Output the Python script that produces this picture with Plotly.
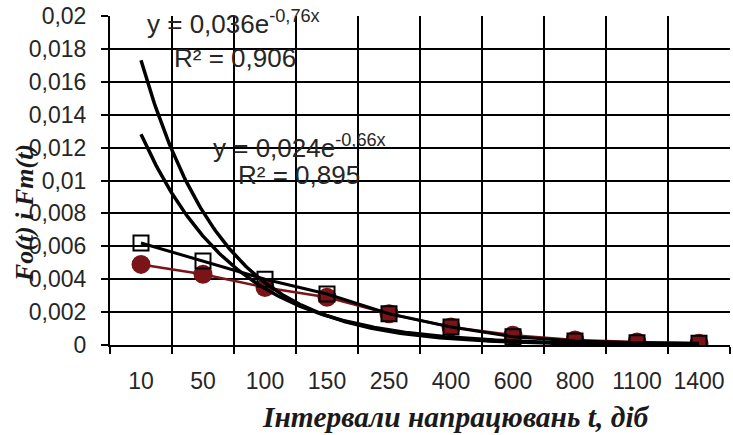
import numpy as np
import plotly.graph_objects as go

categories = ["10", "50", "100", "150", "250", "400", "600", "800", "1100", "1400"]
fo_values = [0.0062, 0.0051, 0.0040, 0.0031, 0.0019, 0.0011, 0.0005, 0.00025, 0.00014, 0.0001]
fm_values = [0.0049, 0.0043, 0.0035, 0.0029, 0.0019, 0.0011, 0.0006, 0.0003, 0.00018, 0.0001]
trend1 = (0.037, -0.76)    # shown as y = 0,036e^-0,76x, R² = 0,906
trend2 = (0.0248, -0.66)   # shown as y = 0,024e^-0,66x, R² = 0,895
y_ticks = [0, 0.002, 0.004, 0.006, 0.008, 0.01, 0.012, 0.014, 0.016, 0.018, 0.02]
y_ticktext = ["0", "0,002", "0,004", "0,006", "0,008", "0,01", "0,012", "0,014", "0,016", "0,018", "0,02"]

xpos = list(range(1, len(categories) + 1))
xs = np.linspace(1, len(categories), 300)

RED = "#7a1418"
fig = go.Figure()
fig.add_trace(go.Scatter(x=xpos, y=fm_values, mode="lines+markers",
                         line=dict(color=RED, width=2.5),
                         marker=dict(symbol="circle", size=19, color=RED),
                         showlegend=False))
fig.add_trace(go.Scatter(x=xpos, y=fo_values, mode="lines+markers",
                         line=dict(color="black", width=3),
                         marker=dict(symbol="square-open", size=15, color="black",
                                     line=dict(width=2, color="black")),
                         showlegend=False))
for a, b in (trend1, trend2):
    fig.add_trace(go.Scatter(x=xs, y=a * np.exp(b * xs), mode="lines",
                             line=dict(color="black", width=3.5), showlegend=False))

W, H = 733, 435
L, R, T, B = 110, 3, 13, 90
pw, ph = W - L - R, H - T - B

def px(x):
    return (x - L) / pw

def py(y):
    return (H - B - y) / ph

tick_font = dict(family="Liberation Sans, Arial, sans-serif", size=23, color="#262626")
ann_font = dict(family="Liberation Sans, Arial, sans-serif", size=26, color="#262626")

fig.update_layout(
    width=W, height=H,
    margin=dict(l=L, r=R, t=T, b=B),
    paper_bgcolor="white", plot_bgcolor="white",
    xaxis=dict(range=[0.5, len(categories) + 0.5], tickmode="array", tickvals=xpos,
               ticktext=categories, ticks="", showgrid=False, zeroline=False,
               tickfont=tick_font, ticklabelstandoff=14,
               showline=True, linecolor="black", linewidth=2,
               minor=dict(tickmode="array", tickvals=[i + 0.5 for i in range(len(categories) + 1)],
                          ticks="outside", ticklen=7, tickwidth=2, tickcolor="black",
                          showgrid=True, gridcolor="black", gridwidth=2)),
    yaxis=dict(range=[0, 0.02], tickmode="array", tickvals=y_ticks, ticktext=y_ticktext,
               ticks="outside", ticklen=7, tickwidth=2, tickcolor="black",
               showgrid=True, gridcolor="black", gridwidth=2, zeroline=False,
               showline=True, linecolor="black", linewidth=2,
               tickfont=tick_font, ticklabelstandoff=10),
    annotations=[
        dict(text="y = 0,036e<sup>-0,76x</sup>", x=px(145), y=py(20), xref="paper", yref="paper",
             xanchor="left", yanchor="middle", showarrow=False, font=ann_font),
        dict(text="R² = 0,906", x=px(235), y=py(55), xref="paper", yref="paper",
             xanchor="center", yanchor="middle", showarrow=False, font=ann_font),
        dict(text="y = 0,024e<sup>-0,66x</sup>", x=px(211), y=py(145), xref="paper", yref="paper",
             xanchor="left", yanchor="middle", showarrow=False, font=ann_font),
        dict(text="R² = 0,895", x=px(299), y=py(173), xref="paper", yref="paper",
             xanchor="center", yanchor="middle", showarrow=False, font=ann_font),
        dict(text="<b><i>Fо(t) і Fт(t)</i></b>", textangle=-90, x=px(24), y=py(212),
             xref="paper", yref="paper", xanchor="center", yanchor="middle", showarrow=False,
             font=dict(family="Liberation Serif, Times New Roman, serif", size=26, color="#1a1a1a")),
        dict(text="<b><i>Інтервали напрацювань t, діб</i></b>", x=px(456), y=py(418),
             xref="paper", yref="paper", xanchor="center", yanchor="middle", showarrow=False,
             font=dict(family="Liberation Serif, Times New Roman, serif", size=29.5, color="#1a1a1a")),
    ],
)

fig.write_html("out.html")
